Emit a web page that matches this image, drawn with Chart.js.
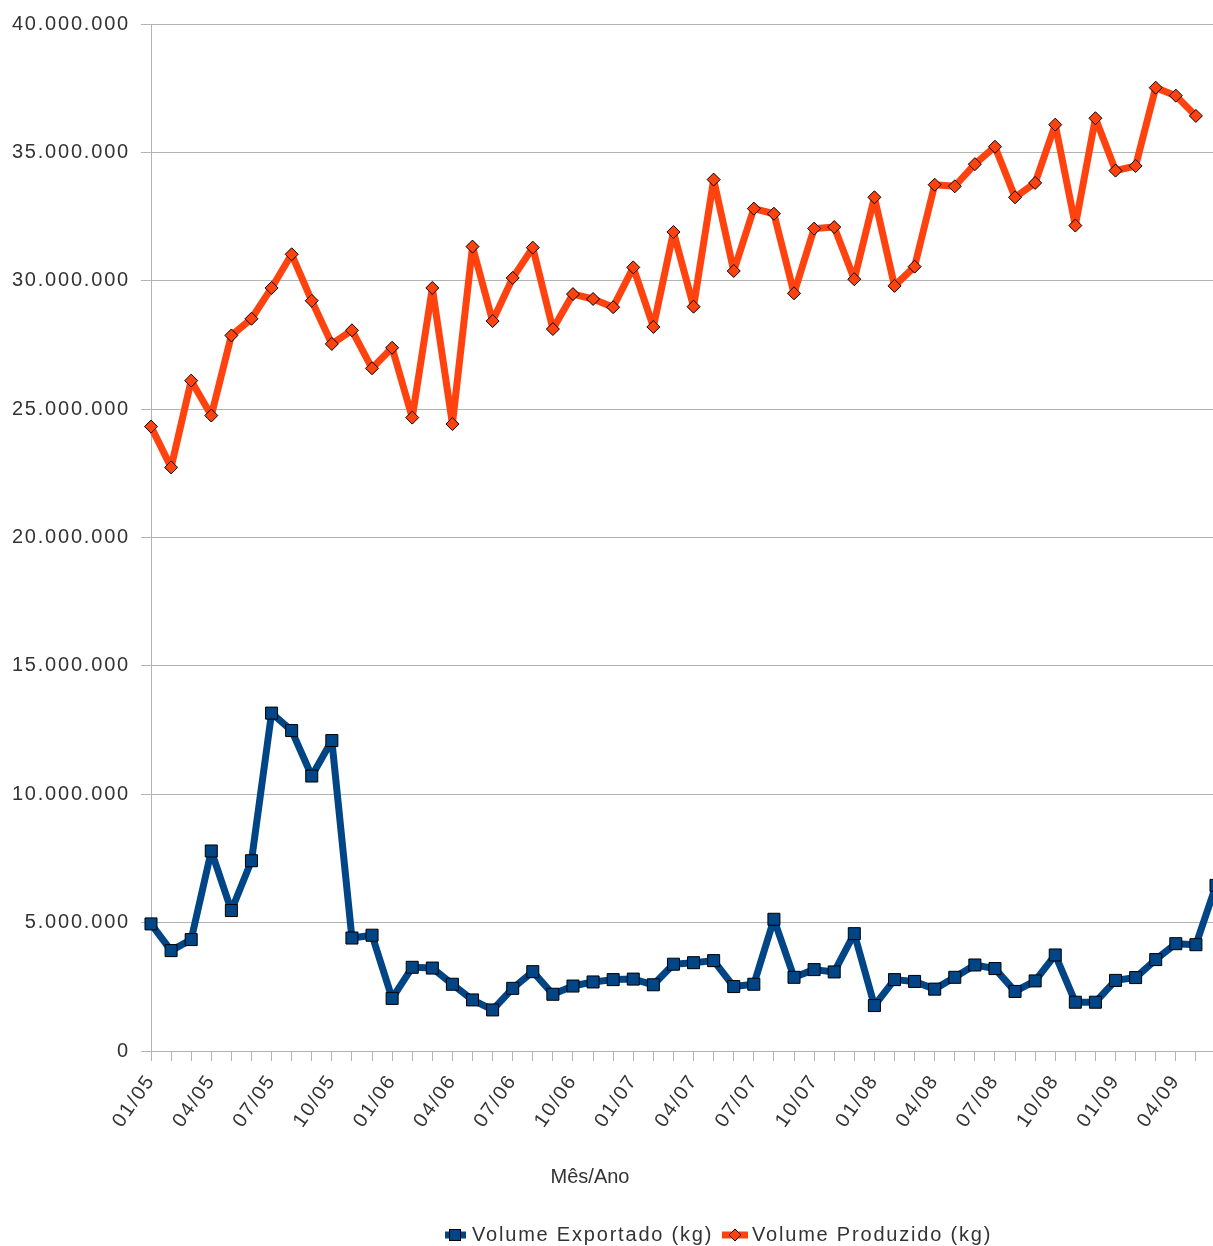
<!DOCTYPE html>
<html>
<head>
<meta charset="utf-8">
<script src="https://cdn.jsdelivr.net/npm/chart.js@4/dist/chart.umd.min.js"></script>
<style>
  html, body { margin: 0; padding: 0; overflow: hidden; background: #fff; }
  #wrap { width: 1226px; height: 1246px; }
</style>
</head>
<body>
<div id="wrap"><canvas id="volChart" width="1226" height="1246"></canvas></div>
<script>
const meses = [
  '01/05', '02/05', '03/05', '04/05', '05/05', '06/05', '07/05', '08/05', '09/05', '10/05', '11/05', '12/05',
  '01/06', '02/06', '03/06', '04/06', '05/06', '06/06', '07/06', '08/06', '09/06', '10/06', '11/06', '12/06',
  '01/07', '02/07', '03/07', '04/07', '05/07', '06/07', '07/07', '08/07', '09/07', '10/07', '11/07', '12/07',
  '01/08', '02/08', '03/08', '04/08', '05/08', '06/08', '07/08', '08/08', '09/08', '10/08', '11/08', '12/08',
  '01/09', '02/09', '03/09', '04/09', '05/09', '06/09'
];

const volumeExportado = [
  4950000, 3910000, 4340000, 7790000, 5470000, 7410000, 13160000, 12480000, 10710000, 12090000, 4400000, 4510000,
  2050000, 3260000, 3230000, 2600000, 1990000, 1600000, 2440000, 3090000, 2210000, 2530000, 2690000, 2780000,
  2800000, 2580000, 3380000, 3440000, 3520000, 2510000, 2600000, 5130000, 2870000, 3170000, 3080000, 4570000,
  1770000, 2780000, 2710000, 2410000, 2870000, 3350000, 3210000, 2320000, 2730000, 3740000, 1900000, 1900000,
  2750000, 2860000, 3560000, 4180000, 4140000, 6450000
];

const volumeProduzido = [
  24320000, 22730000, 26110000, 24750000, 27870000, 28520000, 29720000, 31030000, 29220000, 27540000, 28070000, 26590000,
  27390000, 24670000, 29720000, 24420000, 31330000, 28430000, 30110000, 31290000, 28120000, 29480000, 29290000, 28970000,
  30520000, 28200000, 31900000, 28990000, 33940000, 30380000, 32810000, 32610000, 29510000, 32030000, 32090000, 30060000,
  33250000, 29800000, 30550000, 33740000, 33680000, 34540000, 35220000, 33250000, 33810000, 36080000, 32150000, 36330000,
  34290000, 34470000, 37520000, 37210000, 36420000, null
];

const AZUL = '#004586';
const LARANJA = '#ff420e';
const TEXTO = '#333333';
const GRADE = '#b3b3b3';
const FONTE = '"Liberation Sans", Arial, sans-serif';

function pontos(n) {
  return String(n).replace(/\B(?=(\d{3})+(?!\d))/g, '.');
}

// title of x axis and legend drawn by hand so they sit where the original has them
const rodape = {
  id: 'rodape',
  beforeLayout(chart) { chart.ctx.letterSpacing = '1.8px'; },
  beforeDraw(chart) { chart.ctx.letterSpacing = '1.8px'; },
  afterDraw(chart) {
    const ctx = chart.ctx;
    ctx.save();
    ctx.fillStyle = TEXTO;
    ctx.textBaseline = 'middle';
    ctx.font = '20px ' + FONTE;

    ctx.letterSpacing = '0px';
    ctx.textAlign = 'center';
    ctx.fillText('Mês/Ano', 590, 1177);

    ctx.letterSpacing = '1.8px';
    ctx.textAlign = 'left';
    const y = 1235;

    // Volume Exportado
    ctx.fillStyle = AZUL;
    ctx.fillRect(445, y - 3.5, 21, 7);
    ctx.fillRect(449, y - 6, 12, 12);
    ctx.strokeStyle = '#000';
    ctx.lineWidth = 1;
    ctx.strokeRect(449.5, y - 5.5, 11, 11);
    ctx.fillStyle = TEXTO;
    ctx.fillText('Volume Exportado (kg)', 472, y);

    // Volume Produzido
    ctx.fillStyle = LARANJA;
    ctx.fillRect(722, y - 3.5, 26, 7);
    ctx.beginPath();
    ctx.moveTo(735, y - 6);
    ctx.lineTo(741, y);
    ctx.lineTo(735, y + 6);
    ctx.lineTo(729, y);
    ctx.closePath();
    ctx.fill();
    ctx.stroke();
    ctx.fillStyle = TEXTO;
    ctx.fillText('Volume Produzido (kg)', 752, y);
    ctx.restore();
  }
};

const ctx = document.getElementById('volChart').getContext('2d');
new Chart(ctx, {
  type: 'line',
  data: {
    labels: meses,
    datasets: [{
      label: 'Volume Exportado (kg)',
      data: volumeExportado,
      borderColor: AZUL,
      backgroundColor: AZUL,
      borderWidth: 7,
      borderJoinStyle: 'round',
      pointStyle: 'rect',
      pointRadius: 8.5,
      pointBackgroundColor: AZUL,
      pointBorderColor: '#000',
      pointBorderWidth: 1,
      tension: 0
    }, {
      label: 'Volume Produzido (kg)',
      data: volumeProduzido,
      borderColor: LARANJA,
      backgroundColor: LARANJA,
      borderWidth: 7,
      borderJoinStyle: 'round',
      pointStyle: 'rectRot',
      pointRadius: 6.5,
      pointBackgroundColor: LARANJA,
      pointBorderColor: '#000',
      pointBorderWidth: 1,
      tension: 0
    }]
  },
  options: {
    responsive: false,
    animation: false,
    layout: { padding: { top: 24, right: 10, left: 0, bottom: 0 } },
    plugins: {
      legend: { display: false },
      tooltip: { enabled: false }
    },
    scales: {
      x: {
        offset: false,
        afterFit(scale) {
          scale.height = 195;
          scale.paddingLeft = 0;
          scale.paddingRight = 0;
        },
        grid: { display: true, drawOnChartArea: false, drawTicks: true, tickLength: 10, color: GRADE },
        border: { color: GRADE },
        ticks: {
          autoSkip: false,
          maxRotation: 55,
          minRotation: 55,
          padding: 9,
          color: TEXTO,
          font: { family: FONTE, size: 20 },
          callback: (v, i) => (i % 3 === 0 ? meses[i] : '')
        }
      },
      y: {
        min: 0,
        max: 40000000,
        afterFit(scale) { scale.width = 151; },
        grid: { color: GRADE, tickLength: 10 },
        border: { color: GRADE },
        ticks: {
          stepSize: 5000000,
          padding: 11,
          color: TEXTO,
          font: { family: FONTE, size: 20 },
          callback: v => pontos(v)
        }
      }
    }
  },
  plugins: [rodape]
});
</script>
</body>
</html>
